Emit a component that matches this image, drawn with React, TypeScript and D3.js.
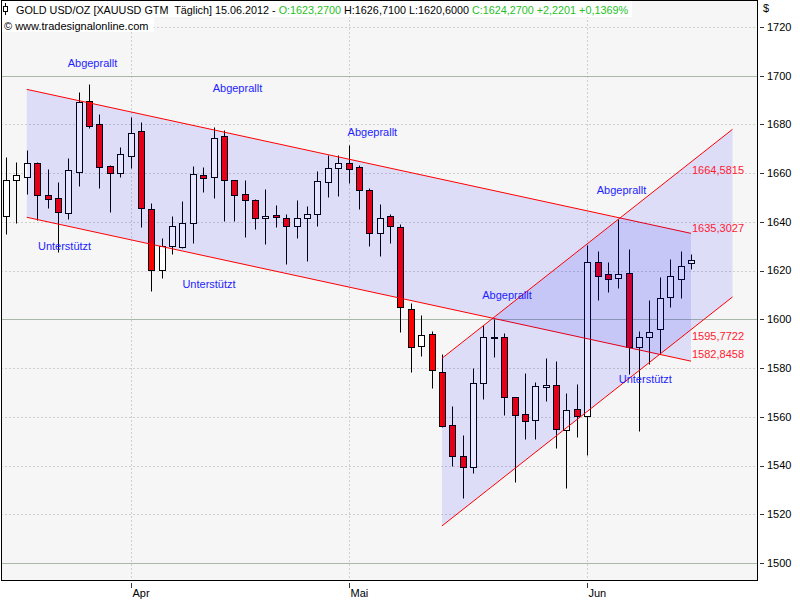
import * as d3 from "d3";
import React from "react";

// trading days, 15.03.2012 - 15.06.2012
const dates = [
  "2012-03-15", "2012-03-16", "2012-03-19", "2012-03-20", "2012-03-21", "2012-03-22", "2012-03-23",
  "2012-03-26", "2012-03-27", "2012-03-28", "2012-03-29", "2012-03-30",
  "2012-04-02", "2012-04-03", "2012-04-04", "2012-04-05", "2012-04-06", "2012-04-09", "2012-04-10",
  "2012-04-11", "2012-04-12", "2012-04-13", "2012-04-16", "2012-04-17", "2012-04-18", "2012-04-19",
  "2012-04-20", "2012-04-23", "2012-04-24", "2012-04-25", "2012-04-26", "2012-04-27", "2012-04-30",
  "2012-05-01", "2012-05-02", "2012-05-03", "2012-05-04", "2012-05-07", "2012-05-08", "2012-05-09",
  "2012-05-10", "2012-05-11", "2012-05-14", "2012-05-15", "2012-05-16", "2012-05-17", "2012-05-18",
  "2012-05-21", "2012-05-22", "2012-05-23", "2012-05-24", "2012-05-25", "2012-05-28", "2012-05-29",
  "2012-05-30", "2012-05-31",
  "2012-06-01", "2012-06-04", "2012-06-05", "2012-06-06", "2012-06-07", "2012-06-08", "2012-06-11",
  "2012-06-12", "2012-06-13", "2012-06-14", "2012-06-15",
];

const open = [
  1642.6, 1657.1, 1658.3, 1664.0, 1651.0, 1649.7, 1643.5, 1660.6, 1689.6, 1680.0, 1662.9, 1660.2,
  1667.2, 1677.3, 1645.2, 1620.3, 1630.2, 1629.8, 1639.7, 1659.3, 1658.3, 1675.2, 1657.2, 1651.5,
  1649.0, 1641.5, 1642.8, 1641.5, 1638.3, 1641.5, 1643.1, 1656.5, 1662.0,
  1664.0, 1662.4, 1653.1, 1635.3, 1642.6, 1637.8, 1604.4, 1589.1, 1593.8, 1578.3, 1556.5, 1543.8,
  1539.3, 1573.7, 1592.5, 1592.6, 1568.0, 1561.0, 1558.8, 1572.1, 1572.9, 1554.6, 1563.1,
  1560.2, 1623.4, 1618.5, 1616.8, 1618.9, 1588.8, 1592.9, 1596.2, 1609.0, 1616.4, 1623.27,
];
const high = [
  1666.5, 1664.5, 1669.5, 1664.7, 1661.7, 1656.3, 1666.4, 1693.4, 1696.6, 1684.3, 1663.3, 1670.6,
  1683.1, 1680.9, 1647.6, 1633.2, 1642.4, 1648.6, 1662.9, 1662.7, 1678.8, 1677.6, 1657.4, 1657.4,
  1649.3, 1653.7, 1646.9, 1643.1, 1649.0, 1646.4, 1660.9, 1667.5, 1667.5,
  1671.6, 1663.3, 1654.1, 1647.3, 1643.1, 1639.1, 1606.6, 1601.8, 1595.2, 1585.8, 1564.3, 1552.5,
  1579.9, 1597.6, 1600.0, 1594.5, 1568.3, 1577.8, 1574.4, 1584.0, 1582.9, 1569.7, 1573.4,
  1630.5, 1628.2, 1623.5, 1641.1, 1628.9, 1595.2, 1607.9, 1617.5, 1624.7, 1628.2, 1626.71,
];
const low = [
  1635.0, 1639.4, 1651.5, 1640.8, 1645.8, 1627.5, 1641.2, 1654.9, 1678.7, 1654.1, 1644.2, 1658.5,
  1662.2, 1638.0, 1611.8, 1617.0, 1626.7, 1629.2, 1631.5, 1652.4, 1649.9, 1640.5, 1640.4, 1633.9,
  1637.2, 1630.8, 1638.0, 1622.9, 1633.3, 1623.9, 1638.5, 1650.1, 1650.8,
  1656.1, 1645.5, 1630.2, 1626.1, 1631.5, 1595.0, 1578.5, 1585.1, 1571.9, 1555.7, 1539.9, 1526.8,
  1536.8, 1567.5, 1584.4, 1560.7, 1533.1, 1550.9, 1550.9, 1566.6, 1547.4, 1530.9, 1551.9,
  1544.3, 1607.9, 1611.4, 1612.8, 1577.6, 1554.3, 1581.5, 1585.8, 1605.2, 1608.9, 1620.6,
];
const close = [
  1657.2, 1659.3, 1664.0, 1650.9, 1649.3, 1643.9, 1661.3, 1689.2, 1679.4, 1662.7, 1660.2, 1667.7,
  1676.3, 1645.6, 1620.3, 1630.2, 1638.5, 1639.4, 1659.6, 1658.2, 1674.6, 1657.4, 1650.9, 1648.9,
  1641.5, 1642.4, 1642.2, 1638.3, 1641.5, 1643.1, 1656.7, 1662.0, 1664.0,
  1661.6, 1653.1, 1635.3, 1641.5, 1638.3, 1605.0, 1588.5, 1593.4, 1579.1, 1556.4, 1543.8, 1539.3,
  1573.7, 1592.6, 1592.9, 1568.0, 1560.6, 1558.4, 1572.5, 1572.9, 1554.9, 1562.8, 1560.2,
  1623.4, 1617.9, 1616.4, 1618.5, 1588.8, 1592.9, 1594.7, 1608.6, 1617.8, 1622.05, 1624.27,
];

const priceTicks = [1500, 1520, 1540, 1560, 1580, 1600, 1620, 1640, 1660, 1680, 1700, 1720];
const majorPrices = [1500, 1600, 1700];
const monthNames = ["Jan", "Feb", "Mär", "Apr", "Mai", "Jun", "Jul", "Aug", "Sep", "Okt", "Nov", "Dez"];

// trend channels: [start bar, end bar], prices at start / end
const channelBars = [[2, 66], [42, 70]];
const channelUpper = [[1694.4, 1635.3027], [1584.0, 1678.0]];
const channelLower = [[1641.9, 1582.8458], [1515.2, 1609.2]];

const levelText = ["1664,5815", "1635,3027", "1595,7722", "1582,8458"];
const levelPrice = [1664.5815, 1635.3027, 1595.7722, 1582.8458];
const levelDy = [12, -1, 10, -3];

const noteText = ["Abgeprallt", "Abgeprallt", "Abgeprallt", "Abgeprallt", "Abgeprallt",
  "Unterstützt", "Unterstützt", "Unterstützt"];
const noteBar = [8.33, 22.3, 35.3, 48.27, 59.3, 5.64, 19.56, 61.6];
const notePrice = [1703.6, 1693.3, 1675.3, 1608.4, 1651.5, 1628.5, 1612.9, 1573.9];

const FONT = "Tahoma, 'Liberation Sans', Arial, sans-serif";

export default function App() {
  const W = 800, H = 600;
  const plot = { left: 1.5, top: 0.5, right: 757.5, bottom: 580.5 };

  const x = d3.scaleLinear().domain([0, dates.length - 1]).range([6, 691]);
  const y = d3.scaleLinear().domain([1500, 1720]).range([563, 27]);
  const px = (i: number) => Math.round(x(i)) + 0.5;
  const py = (v: number) => Math.round(y(v)) + 0.5;

  const parse = d3.timeParse("%Y-%m-%d");
  const monthStarts: { i: number; label: string }[] = [];
  dates.forEach((d, i) => {
    const m = parse(d)!.getMonth();
    if (i > 0 && m !== parse(dates[i - 1])!.getMonth()) monthStarts.push({ i, label: monthNames[m] });
  });

  const bodyW = 6;

  const candles = dates.map((d, i) => {
    const up = close[i] >= open[i];
    const cx = px(i);
    const top = Math.round(y(Math.max(open[i], close[i]))) + 0.5;
    const bot = Math.round(y(Math.min(open[i], close[i]))) + 0.5;
    return (
      <g key={d}>
        <line x1={cx} x2={cx} y1={py(high[i])} y2={py(low[i])} stroke="#000" />
        <rect x={cx - bodyW / 2} y={top} width={bodyW} height={Math.max(1, bot - top)}
          fill={up ? "#ffffff" : "#ff0000"} stroke="#000" />
      </g>
    );
  });

  const channels = channelBars.map((b, k) => {
    const x0 = x(b[0]), x1 = x(b[1]);
    const u = channelUpper[k], l = channelLower[k];
    const poly = d3.line()([
      [x0, y(u[0])], [x1, y(u[1])], [x1, y(l[1])], [x0, y(l[0])],
    ]) + "Z";
    return (
      <g key={k}>
        <path d={poly} fill="#0000ff" fillOpacity={0.1} stroke="none" />
        <line x1={x0} y1={y(u[0])} x2={x1} y2={y(u[1])} stroke="#ff0000" />
        <line x1={x0} y1={y(l[0])} x2={x1} y2={y(l[1])} stroke="#ff0000" />
      </g>
    );
  });

  return (
    <div style={{ position: "absolute", left: 0, top: 0 }}>
      <svg width={W} height={H} style={{ display: "block" }} fontFamily={FONT}>
        <rect width={W} height={H} fill="#ffffff" />
        <rect x={plot.left} y={plot.top} width={plot.right - plot.left} height={plot.bottom - plot.top} fill="#f6f6f6" />

        {/* grid */}
        {priceTicks.map(v => majorPrices.includes(v) ? (
          <line key={v} x1={plot.left} x2={plot.right} y1={py(v)} y2={py(v)} stroke="#a9b9a9" />
        ) : (
          <line key={v} x1={plot.left} x2={plot.right} y1={py(v)} y2={py(v)} stroke="#a8a8a8" strokeDasharray="1 3" />
        ))}
        {monthStarts.map(m => (
          <line key={m.label} x1={px(m.i)} x2={px(m.i)} y1={plot.top} y2={plot.bottom} stroke="#a8a8a8" strokeDasharray="1 3" />
        ))}

        {/* header backgrounds */}
        <rect x={2} y={1} width={630} height={16} fill="#ffffff" />
        <rect x={2} y={17} width={152} height={15} fill="#ffffff" />

        {candles}
        {channels}

        {noteText.map((t, k) => (
          <text key={k} x={x(noteBar[k])} y={y(notePrice[k])} textAnchor="middle" fontSize={11} fill="#1e1eff">{t}</text>
        ))}
        {levelText.map((t, k) => (
          <text key={t} x={x(66) + 1} y={y(levelPrice[k]) + levelDy[k]} fontSize={11} fill="#ff1a33">{t}</text>
        ))}

        {/* frame */}
        <rect x={plot.left} y={plot.top} width={plot.right - plot.left} height={plot.bottom - plot.top} fill="none" stroke="#000" />

        {/* price axis */}
        {priceTicks.map(v => (
          <g key={v}>
            <line x1={760} x2={764} y1={py(v)} y2={py(v)} stroke="#333" />
            <text x={767} y={y(v)} dy="0.35em" fontSize={11} fill="#000">{v}</text>
          </g>
        ))}
        <text x={763} y={12} fontSize={11} fill="#000">$</text>

        {/* time axis */}
        {monthStarts.map(m => (
          <g key={m.label}>
            <line x1={px(m.i)} x2={px(m.i)} y1={583} y2={588} stroke="#333" />
            <text x={px(m.i) + 1} y={597} fontSize={11} fill="#000">{m.label}</text>
          </g>
        ))}

        {/* header */}
        <line x1={5.5} x2={5.5} y1={3} y2={15} stroke="#000" />
        <rect x={3.5} y={6.5} width={4} height={5} fill="#fff" stroke="#000" />
        <text x={16} y={14} fontSize={10.8} fill="#000" xmlSpace="preserve">
          GOLD USD/OZ [XAUUSD GTM  Täglich] 15.06.2012 -{" "}
          <tspan fill="#1fbf1f">O:1623,2700</tspan>
          <tspan> H:1626,7100 L:1620,6000 </tspan>
          <tspan fill="#1fbf1f">C:1624,2700 +2,2201 +0,1369%</tspan>
        </text>
        <text x={4} y={30} fontSize={11} fill="#000">© www.tradesignalonline.com</text>
      </svg>
    </div>
  );
}
